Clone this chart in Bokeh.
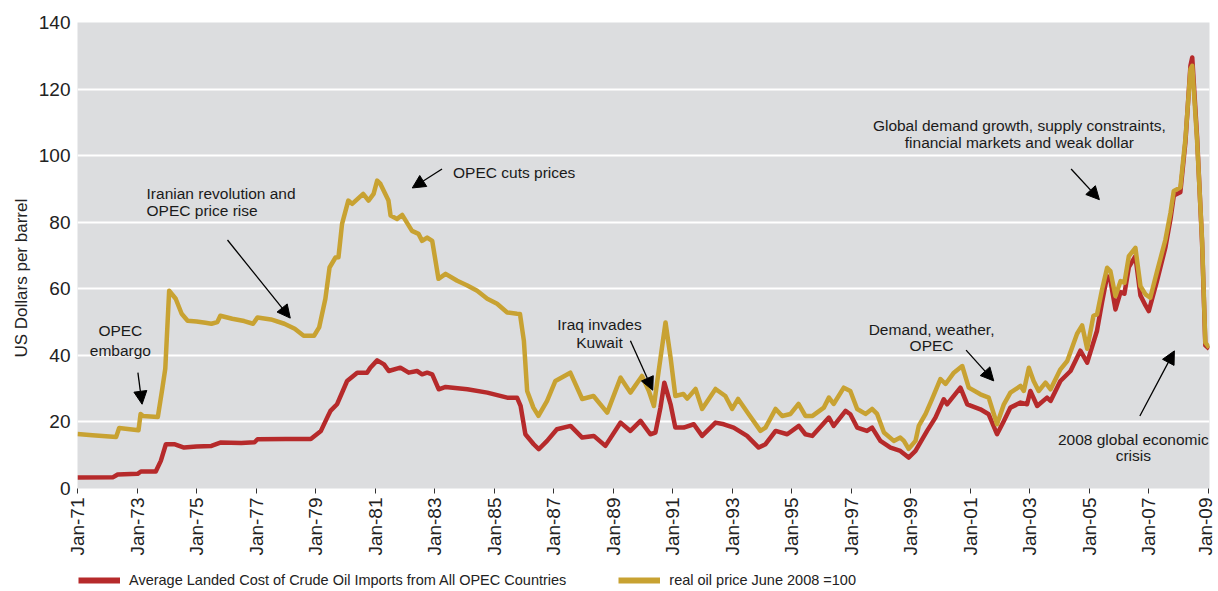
from bokeh.plotting import figure
from bokeh.layouts import column
from bokeh.models import (Range1d, FixedTicker, Arrow, NormalHead, Legend,
                          LegendItem, ColumnDataSource, Title)
from bokeh.core.properties import value
from bokeh.embed import file_html
from bokeh.resources import INLINE

# ---------------- data (decimal years, USD per barrel) ----------------
opec_years = [1971.0, 1972.2, 1972.35, 1973.02, 1973.13, 1973.63, 1973.8, 1973.97, 1974.25,
              1974.58, 1975.0, 1975.5, 1975.8, 1976.5, 1976.95, 1977.05, 1978.0, 1978.84,
              1979.18, 1979.39, 1979.5, 1979.72, 1980.06, 1980.4, 1980.73, 1980.84, 1981.07,
              1981.3, 1981.46, 1981.85, 1982.13, 1982.41, 1982.58, 1982.75, 1982.92, 1983.14,
              1983.37, 1984.1, 1984.77, 1985.44, 1985.77, 1985.89, 1986.05, 1986.33, 1986.5,
              1986.78, 1987.11, 1987.57, 1987.96, 1988.35, 1988.74, 1989.25, 1989.58, 1989.92,
              1990.25, 1990.42, 1990.59, 1990.72, 1990.93, 1991.09, 1991.37, 1991.71, 1991.99,
              1992.44, 1992.72, 1993.05, 1993.5, 1993.89, 1994.12, 1994.46, 1994.85, 1995.24,
              1995.46, 1995.69, 1996.25, 1996.41, 1996.81, 1996.97, 1997.2, 1997.53, 1997.7,
              1997.98, 1998.32, 1998.65, 1998.93, 1999.16, 1999.55, 1999.83, 2000.11, 2000.22,
              2000.67, 2000.9, 2001.34, 2001.62, 2001.9, 2002.13, 2002.35, 2002.69, 2002.91,
              2003.02, 2003.25, 2003.58, 2003.7, 2004.03, 2004.37, 2004.7, 2004.93, 2005.26,
              2005.43, 2005.6, 2005.71, 2005.88, 2006.05, 2006.18, 2006.33, 2006.55, 2006.72,
              2006.89, 2007.0, 2007.28, 2007.56, 2007.73, 2007.84, 2008.06, 2008.23, 2008.4,
              2008.46, 2008.62, 2008.79, 2008.9, 2009.03]
opec_cost = [3.3, 3.4, 4.2, 4.4, 5.1, 5.1, 8.3, 13.3, 13.3,
             12.3, 12.6, 12.8, 13.8, 13.7, 13.9, 14.8, 14.9, 14.9,
             17.3, 21.3, 23.3, 25.3, 32.3, 34.8, 34.8, 36.3, 38.5,
             37.3, 35.3, 36.3, 34.8, 35.3, 34.3, 34.8, 34.3, 29.8,
             30.5, 29.8, 28.8, 27.3, 27.3, 24.8, 16.3, 13.3, 11.8,
             14.3, 17.8, 18.8, 15.3, 15.8, 12.8, 19.8, 17.3, 20.3,
             16.3, 16.8, 24.3, 31.8, 25.3, 18.3, 18.3, 19.3, 15.8,
             19.8, 19.3, 18.3, 15.8, 12.3, 13.3, 17.3, 16.3, 18.8,
             16.3, 15.8, 21.3, 18.8, 23.3, 22.3, 18.3, 17.3, 18.3,
             14.3, 12.3, 11.3, 9.3, 11.3, 17.3, 21.3, 26.8, 25.3,
             30.3, 25.3, 23.8, 22.3, 16.3, 20.3, 24.3, 25.8, 25.3,
             29.3, 24.8, 27.3, 26.3, 32.3, 35.3, 41.4, 37.8, 47.4,
             56.0, 63.8, 62.5, 53.8, 59.0, 58.5, 66.5, 69.8, 58.0,
             55.0, 53.3, 62.5, 72.5, 81.0, 88.0, 89.0, 104.0, 127.0,
             129.5, 106.0, 74.0, 43.0, 42.0]

real_years = [1971.0, 1971.5, 1972.3, 1972.4, 1973.05, 1973.12, 1973.2, 1973.7, 1973.85,
              1973.95, 1974.08, 1974.3, 1974.5, 1974.7, 1975.0, 1975.3, 1975.5, 1975.7,
              1975.8, 1976.2, 1976.6, 1976.9, 1977.05, 1977.5, 1977.95, 1978.3, 1978.6,
              1978.95, 1979.12, 1979.33, 1979.47, 1979.67, 1979.77, 1979.89, 1980.1, 1980.23,
              1980.6, 1980.78, 1980.95, 1981.07, 1981.18, 1981.45, 1981.52, 1981.74, 1981.91,
              1982.24, 1982.46, 1982.58, 1982.75, 1982.92, 1983.13, 1983.37, 1983.76, 1984.1,
              1984.43, 1984.77, 1985.1, 1985.44, 1985.77, 1985.87, 1986.0, 1986.11, 1986.32,
              1986.49, 1986.78, 1987.06, 1987.56, 1987.96, 1988.34, 1988.8, 1989.25, 1989.58,
              1989.97, 1990.2, 1990.37, 1990.53, 1990.76, 1990.93, 1991.09, 1991.36, 1991.49,
              1991.77, 1991.99, 1992.44, 1992.77, 1993.0, 1993.2, 1993.55, 1993.95, 1994.12,
              1994.46, 1994.68, 1994.96, 1995.23, 1995.46, 1995.7, 1996.08, 1996.25, 1996.41,
              1996.75, 1996.97, 1997.2, 1997.48, 1997.7, 1997.87, 1998.1, 1998.43, 1998.65,
              1998.77, 1998.93, 1999.16, 1999.27, 1999.5, 1999.72, 2000.0, 2000.17, 2000.45,
              2000.73, 2000.95, 2001.34, 2001.62, 2001.9, 2002.13, 2002.35, 2002.69, 2002.8,
              2002.97, 2003.13, 2003.3, 2003.53, 2003.7, 2004.03, 2004.26, 2004.59, 2004.76,
              2004.93, 2005.14, 2005.26, 2005.43, 2005.6, 2005.71, 2005.88, 2006.05, 2006.18,
              2006.33, 2006.55, 2006.72, 2006.89, 2007.05, 2007.28, 2007.56, 2007.73, 2007.84,
              2008.06, 2008.23, 2008.4, 2008.46, 2008.62, 2008.79, 2008.9, 2009.03]
real_price = [16.4, 16.0, 15.5, 18.2, 17.5, 22.4, 21.8, 21.5, 30.0,
              36.0, 59.4, 57.0, 52.5, 50.4, 50.2, 49.8, 49.5, 50.0,
              51.9, 51.0, 50.3, 49.5, 51.4, 50.8, 49.5, 48.0, 45.9,
              45.9, 48.4, 57.0, 66.4, 69.4, 69.5, 79.5, 86.5, 85.5,
              88.5, 86.5, 88.5, 92.5, 91.5, 86.5, 82.0, 81.0, 82.2,
              77.4, 76.5, 74.4, 75.4, 74.4, 63.0, 64.5, 62.4, 61.0,
              59.4, 57.0, 55.5, 52.9, 52.5, 52.4, 44.4, 29.3, 24.3,
              21.8, 26.3, 32.3, 34.8, 26.9, 27.8, 22.8, 33.3, 28.8,
              33.8, 29.3, 24.8, 35.3, 49.9, 39.3, 27.8, 28.4, 27.0,
              29.9, 23.9, 29.9, 27.8, 23.9, 26.9, 22.4, 17.3, 18.3,
              23.9, 21.8, 22.4, 25.4, 21.8, 21.8, 24.3, 27.3, 25.4,
              30.3, 29.3, 23.9, 22.4, 23.9, 22.4, 16.8, 14.3, 15.3,
              14.3, 11.9, 14.3, 18.8, 22.4, 26.9, 32.9, 31.4, 34.8,
              36.8, 30.3, 28.3, 27.3, 19.3, 25.3, 28.8, 30.8, 29.3,
              36.3, 32.3, 29.3, 31.8, 29.8, 35.8, 38.3, 46.5, 49.0,
              42.0, 51.9, 52.3, 59.8, 66.3, 65.3, 57.8, 62.3, 61.8,
              69.8, 72.3, 60.8, 58.3, 57.3, 65.3, 74.8, 82.9, 89.4,
              90.4, 104.9, 126.0, 127.0, 105.0, 74.8, 43.8, 42.3]

tick_years = [1971, 1973, 1975, 1977, 1979, 1981, 1983, 1985, 1987, 1989,
              1991, 1993, 1995, 1997, 1999, 2001, 2003, 2005, 2007, 2009]
tick_labels = ["Jan-71", "Jan-73", "Jan-75", "Jan-77", "Jan-79", "Jan-81", "Jan-83",
               "Jan-85", "Jan-87", "Jan-89", "Jan-91", "Jan-93", "Jan-95", "Jan-97",
               "Jan-99", "Jan-01", "Jan-03", "Jan-05", "Jan-07", "Jan-09"]
y_ticks = [0, 20, 40, 60, 80, 100, 120, 140]

y_title = "US Dollars per barrel"
series_names = ["Average Landed Cost of Crude Oil Imports from All OPEC Countries",
                "real oil price June 2008 =100"]

# annotation texts (one entry per line), anchored in data units
left_text = ["Iranian revolution and", "OPEC price rise", "OPEC cuts prices"]
left_x = [1973.32, 1973.32, 1983.62]
left_y = [88.6, 83.46, 94.98]

center_text = ["OPEC", "embargo", "Iraq invades", "Kuwait", "Demand, weather,", "OPEC",
               "Global demand growth, supply constraints,",
               "financial markets and weak dollar", "2008 global economic", "crisis"]
center_x = [1972.44, 1972.44, 1988.54, 1988.54, 1999.7, 1999.7, 2002.65, 2002.65,
            2006.48, 2006.48]
center_y = [47.4, 41.35, 49.17, 43.85, 47.87, 42.86, 109.0, 104.0, 14.8, 9.77]

arrow_x0 = [1973.03, 1976.04, 1983.25, 1989.58, 2000.86, 2004.39, 2006.70]
arrow_y0 = [34.83, 74.65, 96.0, 44.36, 41.56, 96.0, 21.80]
arrow_x1 = [1973.17, 1978.15, 1982.25, 1990.33, 2001.79, 2005.34, 2007.86]
arrow_y1 = [25.32, 51.19, 90.29, 29.53, 32.33, 86.77, 41.35]

# ---------------- styling ----------------
RED = "#b62a2b"
GOLD = "#c8a232"
BG = "#dcdddf"
FONT = "Liberation Sans"

p = figure(width=1216, height=560, output_backend="svg", toolbar_location=None,
           x_range=Range1d(1971.0, 2009.04), y_range=Range1d(0, 140),
           min_border_left=77, min_border_right=7, min_border_top=22,
           min_border_bottom=72)
p.background_fill_color = BG
p.border_fill_color = "white"
p.outline_line_color = None

r_red = p.line(opec_years, opec_cost, line_color=RED, line_width=4.5, line_join="round")
r_gold = p.line(real_years, real_price, line_color=GOLD, line_width=4.5, line_join="round")

# grid
p.xgrid.grid_line_color = None
p.ygrid.grid_line_color = "white"
p.ygrid.grid_line_width = 2
p.ygrid.ticker = FixedTicker(ticks=y_ticks)

# y axis
p.yaxis.ticker = FixedTicker(ticks=y_ticks)
p.yaxis.axis_line_color = None
p.yaxis.major_tick_line_color = None
p.yaxis.minor_tick_line_color = None
p.yaxis.major_tick_out = 0
p.yaxis.major_label_standoff = 7
p.yaxis.major_label_text_font = FONT
p.yaxis.major_label_text_font_size = "19px"
p.yaxis.major_label_text_color = "#222222"

# vertical axis title, placed lower than centre as in the original
p.add_layout(Title(text=y_title, align="left", offset=131, standoff=9,
                   text_font=FONT, text_font_style="normal", text_font_size="17px",
                   text_color="#222222"), "left")

# x axis
p.xaxis.ticker = FixedTicker(ticks=tick_years)
p.xaxis.major_label_overrides = {t: l for t, l in zip(tick_years, tick_labels)}
p.xaxis.major_label_orientation = 1.5707963
p.xaxis.axis_line_color = None
p.xaxis.major_tick_line_color = "#333333"
p.xaxis.major_tick_out = 5
p.xaxis.major_tick_in = 0
p.xaxis.minor_tick_line_color = None
p.xaxis.major_label_standoff = 4
p.xaxis.major_label_text_font = FONT
p.xaxis.major_label_text_font_size = "19px"
p.xaxis.major_label_text_color = "#222222"

# annotations
p.text(x=left_x, y=left_y, text=left_text, text_font=value(FONT),
       text_font_size="15.5px", text_align="left", text_baseline="alphabetic",
       text_color="#1a1a1a")
p.text(x=center_x, y=center_y, text=center_text, text_font=value(FONT),
       text_font_size="15.5px", text_align="center", text_baseline="alphabetic",
       text_color="#1a1a1a")

arrow_src = ColumnDataSource(dict(x0=arrow_x0, y0=arrow_y0, x1=arrow_x1, y1=arrow_y1))
p.add_layout(Arrow(end=NormalHead(size=13, fill_color="black", line_color="black"),
                   x_start="x0", y_start="y0", x_end="x1", y_end="y1",
                   line_color="black", line_width=1.3, source=arrow_src))

# ---------------- legend strip (separate small figure below) ----------------
# the series are re-drawn here outside the visible range only to provide legend keys
lg = figure(width=1216, height=31, output_backend="svg", toolbar_location=None,
            x_range=Range1d(0, 1), y_range=Range1d(0, 1), min_border=0)
lg.axis.visible = False
lg.grid.grid_line_color = None
lg.outline_line_color = None
lg.background_fill_color = "white"
lg.border_fill_color = "white"
k_red = lg.line(opec_years, opec_cost, line_color=RED, line_width=6)
k_gold = lg.line(real_years, real_price, line_color=GOLD, line_width=6)
legend = Legend(items=[LegendItem(label=series_names[0], renderers=[k_red]),
                       LegendItem(label=series_names[1], renderers=[k_gold])],
                orientation="horizontal", location=(1, 3),
                glyph_width=42, glyph_height=16, label_height=16, label_standoff=9,
                spacing=52, padding=0, margin=0, border_line_color=None,
                background_fill_alpha=0,
                label_text_font=FONT, label_text_font_size="14.5px",
                label_text_color="#222222")
lg.add_layout(legend, "center")

page = column(p, lg, spacing=0)
open("out.html", "w").write(file_html(page, INLINE))
